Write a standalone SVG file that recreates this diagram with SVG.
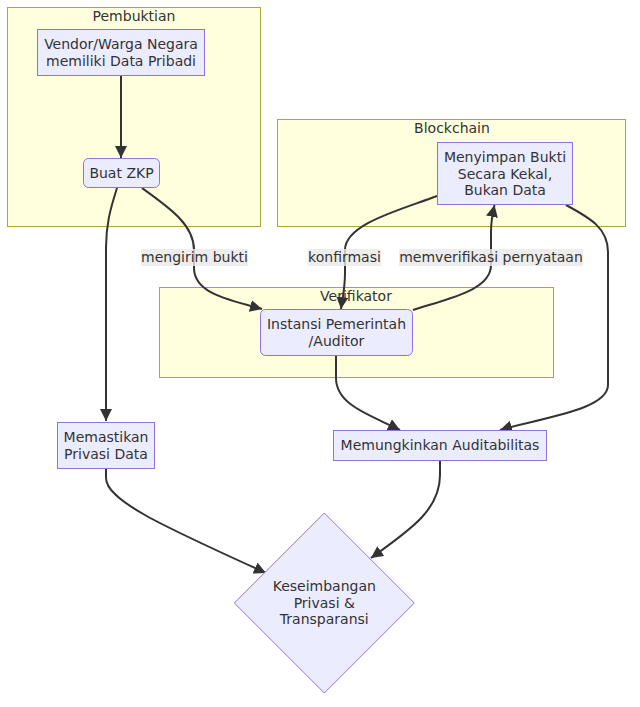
<svg xmlns="http://www.w3.org/2000/svg" width="640" height="707" viewBox="0 0 640 707">
<style>
.cluster{fill:#ffffde;stroke:#aaaa33;stroke-width:1}
.node{fill:#ECECFF;stroke:#9370DB;stroke-width:1}
text{font-family:"DejaVu Sans","Liberation Sans",sans-serif;font-size:14px;fill:#333333;text-anchor:middle}
.edge{fill:none;stroke:#333333;stroke-width:2;marker-end:url(#arrow)}
.lbl{fill:#e8e8e8;fill-opacity:0.8;stroke:none}
</style>
<defs>
<marker id="arrow" viewBox="0 0 10 10" refX="10" refY="5" markerUnits="userSpaceOnUse" markerWidth="12" markerHeight="12" orient="auto">
<path d="M0,0 L10,5 L0,10 z" fill="#333333"/>
</marker>
</defs>
<rect width="640" height="707" fill="#ffffff"/>
<g id="clusters">
<g id="cluster-pembuktian"><rect class="cluster" x="7.5" y="7.5" width="253" height="219"/><text x="134" y="21">Pembuktian</text></g>
<g id="cluster-blockchain"><rect class="cluster" x="277.5" y="119.5" width="348" height="107"/><text x="452" y="133">Blockchain</text></g>
<g id="cluster-verifikator"><rect class="cluster" x="159.5" y="287.5" width="394" height="90"/><text x="356" y="301">Verifikator</text></g>
</g>
<g id="edges">
<path class="edge" d="M121,76 L121,158"/>
<path class="edge" d="M117,188 C110,210 106,225 106,248 L106,421"/>
<path class="edge" d="M142,188 C170,208 194,225 194,250 L194,268 C194,293 228,300 262,309"/>
<path class="edge" d="M437,196 C400,210 345,224 345,250 L345,272 C345,290 342,300 341,309"/>
<path class="edge" d="M413,310 C450,298 491,290 491,265 L491,232 C491,220 493,212 494.5,205"/>
<path class="edge" d="M336,356 L336,378 C336,405 370,415 400,430"/>
<path class="edge" d="M566,205 C590,218 608,228 608,252 L608,385 C608,410 540,418 500,430"/>
<path class="edge" d="M106,469 L106,478 C106,500 160,525 266,573"/>
<path class="edge" d="M440,461 L440,475 C440,510 410,530 371,558"/>
</g>
<g id="edge-labels">
<g id="label-mengirim"><rect class="lbl" x="141" y="249" width="107" height="17"/><text x="194.5" y="262">mengirim bukti</text></g>
<g id="label-konfirmasi"><rect class="lbl" x="308" y="249" width="73" height="17"/><text x="344.5" y="262">konfirmasi</text></g>
<g id="label-memverifikasi"><rect class="lbl" x="399" y="249" width="184" height="17"/><text x="491" y="262">memverifikasi pernyataan</text></g>
</g>
<g id="node-vendor"><rect class="node" x="37.5" y="29.5" width="167" height="46"/><text x="121" y="49">Vendor/Warga Negara</text><text x="121" y="66">memiliki Data Pribadi</text></g>
<g id="node-zkp"><rect class="node" x="83.5" y="158.5" width="76" height="29" rx="5" ry="5"/><text x="121.5" y="178">Buat ZKP</text></g>
<g id="node-menyimpan"><rect class="node" x="437.5" y="142.5" width="135" height="62"/><text x="505" y="162">Menyimpan Bukti</text><text x="505" y="178.5">Secara Kekal,</text><text x="505" y="195">Bukan Data</text></g>
<g id="node-instansi"><rect class="node" x="260.5" y="309.5" width="152" height="46" rx="5" ry="5"/><text x="336.5" y="329">Instansi Pemerintah</text><text x="336.5" y="346">/Auditor</text></g>
<g id="node-memastikan"><rect class="node" x="57.5" y="422.5" width="97" height="46"/><text x="106" y="442">Memastikan</text><text x="106" y="458.5">Privasi Data</text></g>
<g id="node-memungkinkan"><rect class="node" x="333.5" y="430.5" width="213" height="30"/><text x="440" y="450">Memungkinkan Auditabilitas</text></g>
<g id="node-keseimbangan"><polygon class="node" points="324.3,513 414.3,603 324.3,693 234.3,603"/><text x="324.3" y="591">Keseimbangan</text><text x="324.3" y="607.5">Privasi &amp;</text><text x="324.3" y="624">Transparansi</text></g>
</svg>
